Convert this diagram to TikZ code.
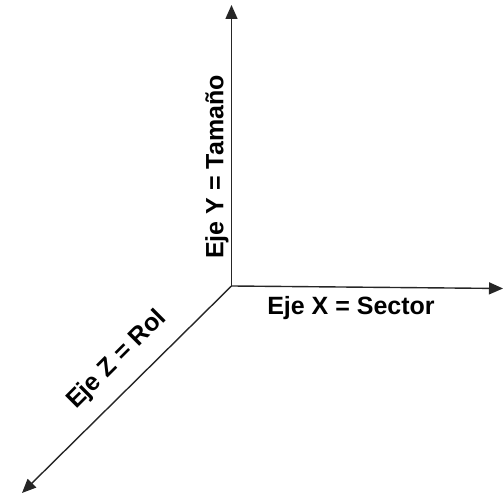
\documentclass[tikz,border=0pt]{standalone}
\usepackage{fontspec}
\setmainfont{Liberation Sans}
\usetikzlibrary{arrows.meta}

\begin{document}
\begin{tikzpicture}[x=1pt, y=1pt,
    axis/.style={-{Triangle[length=14pt, width=12pt]}, line width=1.4pt, black!85},
    axis_label/.style={font=\bfseries\fontsize{25}{30}\selectfont, inner sep=0pt}
]
\useasboundingbox (0,0) rectangle (504,497);

% --- Axes ---
\coordinate (O) at (231.5, 211);
\coordinate (Xend) at (503, 208.5);
\coordinate (Yend) at (231.5, 492);
\coordinate (Zend) at (22, 4);

\draw[axis] (O) -- (Xend);
\draw[axis] (O) -- (Yend);
\draw[axis] (O) -- (Zend);

% --- Labels ---
\node[axis_label] (Xlab) at (351, 189) {Eje X = Sector};
\node[axis_label, rotate=90] (Ylab) at (217, 330) {Eje Y = Tamaño};
\node[axis_label, rotate=45] (Zlab) at (117, 137) {Eje Z = Rol};

\end{tikzpicture}
\end{document}
